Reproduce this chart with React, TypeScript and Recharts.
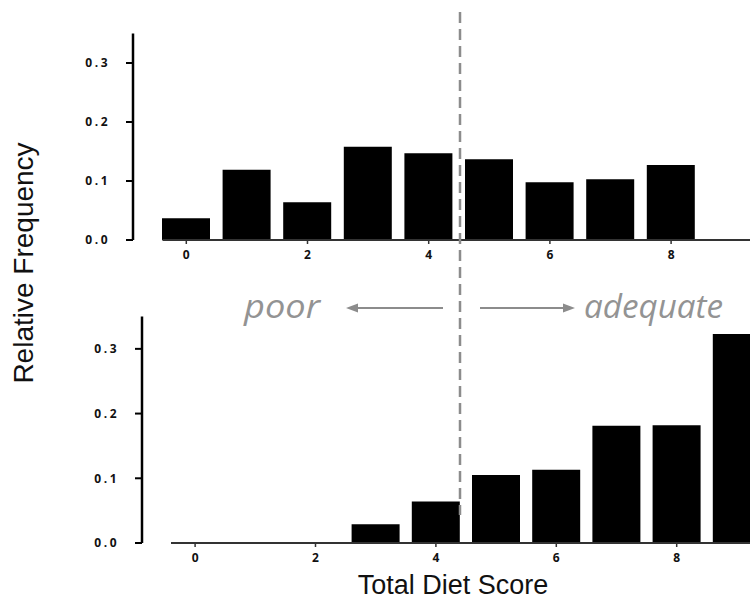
import { BarChart, Bar, XAxis, YAxis } from 'recharts';

// diet score categories (0..9)
const scores = [0, 1, 2, 3, 4, 5, 6, 7, 8, 9];
// relative frequency, upper panel
const upperFreq = [0.037, 0.119, 0.064, 0.158, 0.147, 0.137, 0.098, 0.103, 0.127, 0];
// relative frequency, lower panel
const lowerFreq = [0, 0, 0, 0.029, 0.064, 0.105, 0.113, 0.181, 0.182, 0.323];
const yTicks = [0, 0.1, 0.2, 0.3];

const upperData = scores.map((s, i) => ({ score: s, freq: upperFreq[i] }));
const lowerData = scores.map((s, i) => ({ score: s, freq: lowerFreq[i] }));

const tickFont = { fontFamily: '"Open Sans", sans-serif', fontWeight: 700, fontSize: 12, fill: '#111' };
const labelFont = '"Liberation Sans", Arial, sans-serif';

function Panel({ data, width, height, top, yWidth, gap }: any) {
  return (
    <BarChart
      width={width}
      height={height}
      data={data}
      margin={{ top, right: 8, bottom: 0, left: 0 }}
      barSize={48}
    >
      <XAxis
        dataKey="score"
        interval={1}
        padding={{ left: 23, right: 0 }}
        height={30}
        tickSize={4}
        tickMargin={6}
        axisLine={{ stroke: '#333', strokeWidth: 2, strokeDasharray: `0 ${gap} 2000` }}
        tickLine={{ stroke: '#333', strokeWidth: 1.5 }}
        tick={tickFont}
      />
      <YAxis
        width={yWidth}
        domain={[0, 0.35]}
        ticks={yTicks}
        allowDataOverflow
        tickSize={7}
        tickMargin={16}
        axisLine={{ stroke: '#000', strokeWidth: 2.5 }}
        tickLine={{ stroke: '#000', strokeWidth: 2 }}
        tick={{ ...tickFont, letterSpacing: 2.5 }}
        tickFormatter={(v: number) => v.toFixed(1)}
      />
      <Bar dataKey="freq" fill="#000" isAnimationActive={false} />
    </BarChart>
  );
}

export default function App() {
  return (
    <div style={{ position: 'absolute', left: 0, top: 0, width: 750, height: 601, overflow: 'hidden', background: '#fff' }}>
      <div style={{ position: 'absolute', left: 0, top: 0 }}>
        <Panel data={upperData} width={770} height={270} top={33.5} yWidth={133} gap={29.5} />
      </div>
      <div style={{ position: 'absolute', left: 0, top: 280 }}>
        <Panel data={lowerData} width={775} height={293} top={36.5} yWidth={142} gap={29} />
      </div>

      {/* cut-off line, annotations and shared axis titles */}
      <svg width={750} height={601} style={{ position: 'absolute', left: 0, top: 0, pointerEvents: 'none' }}>
        <line x1={460} y1={12} x2={460} y2={515} stroke="#8c8c8c" strokeWidth={2.5} strokeDasharray="11 6" />

        <line x1={443} y1={308} x2={356} y2={308} stroke="#8c8c8c" strokeWidth={2} />
        <polygon points="346,308 358,303.5 358,312.5" fill="#8c8c8c" />
        <line x1={480} y1={308} x2={565} y2={308} stroke="#8c8c8c" strokeWidth={2} />
        <polygon points="575,308 563,303.5 563,312.5" fill="#8c8c8c" />

        <text x={244} y={318} fontFamily='"Open Sans", sans-serif' fontStyle="italic" fontSize={32} fill="#939393"
          textLength={76} lengthAdjust="spacingAndGlyphs">poor</text>
        <text x={584} y={318} fontFamily='"Open Sans", sans-serif' fontStyle="italic" fontSize={32} fill="#939393"
          textLength={139} lengthAdjust="spacingAndGlyphs">adequate</text>

        <text x={33} y={263} transform="rotate(-90, 33, 263)" textAnchor="middle" fontFamily={labelFont} fontSize={28} fill="#111">
          Relative Frequency
        </text>
        <text x={453} y={594} textAnchor="middle" fontFamily={labelFont} fontSize={27} fill="#111">
          Total Diet Score
        </text>
      </svg>
    </div>
  );
}
